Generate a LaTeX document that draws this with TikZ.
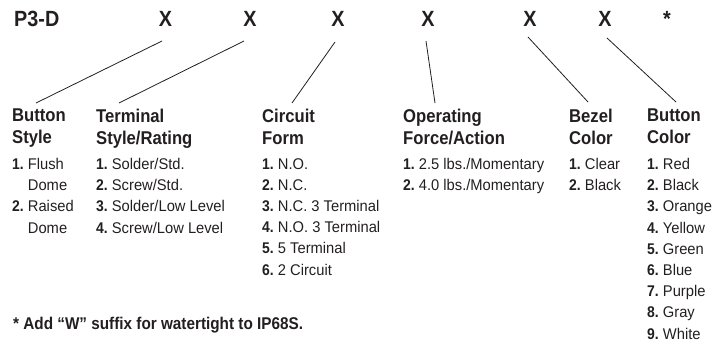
\documentclass[tikz,border=0pt]{standalone}
\usepackage{fontspec}
\setmainfont{Liberation Sans}[FakeStretch=0.95,BoldFeatures={FakeStretch=0.9}]
\usetikzlibrary{positioning}
\definecolor{ink}{HTML}{231F20}
\tikzset{
  every node/.style={text=ink, inner sep=0pt, anchor=base west},
  % --- nodes
  code/.style  = {font=\fontsize{22}{26}\selectfont\bfseries},
  digit/.style = {code, anchor=base},
  hd/.style    = {font=\fontsize{18.5}{22}\selectfont\bfseries, align=left, anchor=north west},
  lst/.style   = {font=\fontsize{15.5}{21.2}\selectfont, align=left, anchor=north west},
  note/.style  = {font=\fontsize{17}{20}\selectfont\bfseries},
  % --- edges
  lead/.style  = {draw=ink, line width=0.8pt},
}
\newcommand{\no}[1]{\textbf{#1.}~}

\begin{document}
\begin{tikzpicture}[x=1pt,y=-1pt]
  \useasboundingbox (0,0) rectangle (723,348);

  % part number
  \node[code] (pn) at (14,27) {P3-D};
  \node[digit] (x1) at (165.5,27) {X};
  \node[digit] (x2) at (250,27) {X};
  \node[digit] (x3) at (338,27) {X};
  \node[digit] (x4) at (428,27) {X};
  \node[digit] (x5) at (530,27) {X};
  \node[digit] (x6) at (605,27) {X};
  \node[digit] (ast) at (667,27) {*};

  % option headers
  \node[hd] (h1) at (12,109) {Button\\Style};
  \node[hd] (h2) at (96,109) {Terminal\\Style/Rating};
  \node[hd] (h3) at (262,109) {Circuit\\Form};
  \node[hd] (h4) at (403,109) {Operating\\Force/Action};
  \node[hd] (h5) at (569,109) {Bezel\\Color};
  \node[hd] (h6) at (647,109) {Button\\Color};

  % option lists
  \node[lst] (l1) at (12,158) {\no{1}Flush\\\phantom{\no{1}}Dome\\
    \no{2}Raised\\\phantom{\no{2}}Dome};
  \node[lst] (l2) at (96,158) {\no{1}Solder/Std.\\\no{2}Screw/Std.\\
    \no{3}Solder/Low Level\\\no{4}Screw/Low Level};
  \node[lst] (l3) at (262,158) {\no{1}N.O.\\\no{2}N.C.\\\no{3}N.C. 3 Terminal\\
    \no{4}N.O. 3 Terminal\\\no{5}5 Terminal\\\no{6}2 Circuit};
  \node[lst] (l4) at (403,158) {\no{1}2.5 lbs./Momentary\\\no{2}4.0 lbs./Momentary};
  \node[lst] (l5) at (569,158) {\no{1}Clear\\\no{2}Black};
  \node[lst] (l6) at (647,158) {\no{1}Red\\\no{2}Black\\\no{3}Orange\\\no{4}Yellow\\
    \no{5}Green\\\no{6}Blue\\\no{7}Purple\\\no{8}Gray\\\no{9}White};

  \node[note] (fn) at (13,329) {* Add “W” suffix for watertight to IP68S.};

  % leader lines
  \draw[lead] ([xshift=-3.5pt,yshift=-14pt]x1.base) -- ([xshift=24pt,yshift=6pt]h1.north west);
  \draw[lead] ([xshift=-6pt,yshift=-14pt]x2.base) -- ([xshift=23pt,yshift=6pt]h2.north west);
  \draw[lead] ([xshift=-3pt,yshift=-15pt]x3.base) -- ([xshift=30pt,yshift=6pt]h3.north west);
  \draw[lead] ([xshift=-2pt,yshift=-14pt]x4.base) -- ([xshift=32pt,yshift=6pt]h4.north west);
  \draw[lead] ([xshift=-2pt,yshift=-10pt]x5.base) -- ([xshift=19pt,yshift=7pt]h5.north west);
  \draw[lead] ([xshift=2pt,yshift=-11pt]x6.base) -- ([xshift=29pt,yshift=7pt]h6.north west);
\end{tikzpicture}
\end{document}
